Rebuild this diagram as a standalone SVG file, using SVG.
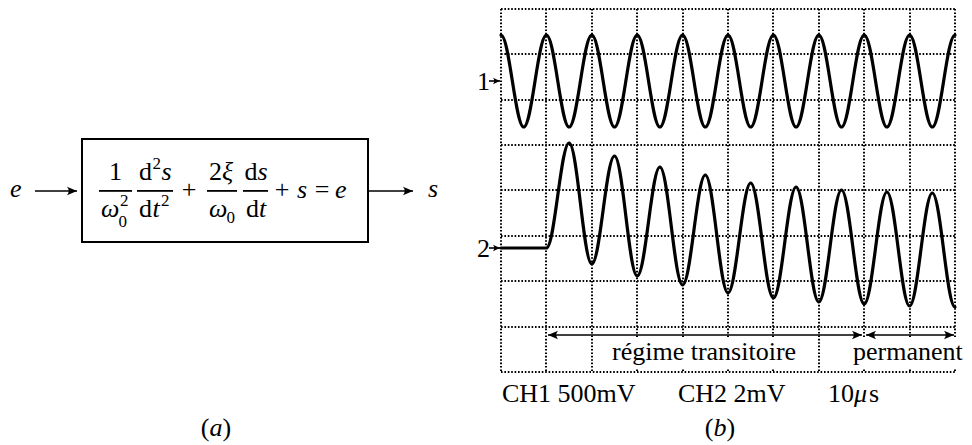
<svg xmlns="http://www.w3.org/2000/svg" width="972" height="445" viewBox="0 0 972 445">
<style>
text{font-family:"Liberation Serif","Times New Roman",serif;font-size:26px;fill:#000}
.i{font-style:italic}
.sc{font-size:17px}
.m{text-anchor:middle}
.bar{fill:#000}
.grid{fill:none;stroke:#000;stroke-width:2;stroke-dasharray:1.6 1.8}
.trace{fill:none;stroke:#000;stroke-width:3.2;stroke-linejoin:round;stroke-linecap:round}
.conn{fill:none;stroke:#000;stroke-width:1.6}
</style>
<defs>
<marker id="ah" viewBox="-11 -5 12 10" refX="0" refY="0" markerWidth="12" markerHeight="10" markerUnits="userSpaceOnUse" orient="auto-start-reverse">
<path d="M0,0 L-10,-4.2 Q-6.5,0 -10,4.2 Z" fill="#000"/>
</marker>
<marker id="ahs" viewBox="-8 -4 9 8" refX="0" refY="0" markerWidth="9" markerHeight="8" markerUnits="userSpaceOnUse" orient="auto">
<path d="M0,0 L-7,-3.2 Q-4.5,0 -7,3.2 Z" fill="#000"/>
</marker>
</defs>
<rect width="972" height="445" fill="#fff"/>

<!-- (a) block diagram -->
<g id="input-e"><text class="i" x="10" y="197">e</text></g>
<g id="block">
<rect x="82" y="139" width="286" height="103" fill="#fff" stroke="#000" stroke-width="2"/>
<text class="m" x="115.5" y="180">1</text>
<rect class="bar" x="99" y="190" width="33" height="1.8"/>
<text class="i" x="101" y="217">ω</text>
<text class="sc" x="118.5" y="227">0</text>
<text class="sc" x="120" y="206">2</text>
<text x="139" y="180">d</text>
<text class="sc" x="152.5" y="169">2</text>
<text class="i" x="161.5" y="180">s</text>
<rect class="bar" x="137" y="190" width="36" height="1.8"/>
<text x="139" y="217">d</text>
<text class="i" x="152.5" y="217">t</text>
<text class="sc" x="161" y="206">2</text>
<text class="m" x="189" y="198">+</text>
<text x="209" y="180">2</text>
<text class="i" x="222" y="180">ξ</text>
<rect class="bar" x="207" y="190" width="30" height="1.8"/>
<text class="i" x="209" y="217">ω</text>
<text class="sc" x="226.5" y="223">0</text>
<text x="244.5" y="180">d</text>
<text class="i" x="257.5" y="180">s</text>
<rect class="bar" x="243" y="190" width="25" height="1.8"/>
<text x="246" y="217">d</text>
<text class="i" x="259" y="217">t</text>
<text class="m" x="282" y="198">+</text>
<text class="i" x="297" y="198">s</text>
<text class="m" x="322" y="198">=</text>
<text class="i" x="335" y="198">e</text>
</g>
<g id="output-s"><text class="i" x="428" y="197">s</text></g>
<g id="caption-a"><text class="m" x="216" y="436">(<tspan class="i">a</tspan>)</text></g>

<!-- (b) oscilloscope -->
<g id="scope">
<path class="grid" d="M501,9V372M546,9V372M592,9V372M637,9V372M683,9V372M728,9V372M773,9V372M819,9V372M864,9V372M910,9V372M955,9V372M501,9H955M501,54H955M501,100H955M501,145H955M501,190H955M501,236H955M501,281H955M501,327H955M501,372H955"/>
<path class="trace" d="M501,35 C509.27,35 515.43,127 523.7,127 s14.43,-92 22.7,-92 s14.43,92 22.7,92 s14.43,-92 22.7,-92 s14.43,92 22.7,92 s14.43,-92 22.7,-92 s14.43,92 22.7,92 s14.43,-92 22.7,-92 s14.43,92 22.7,92 s14.43,-92 22.7,-92 s14.43,92 22.7,92 s14.43,-92 22.7,-92 s14.43,92 22.7,92 s14.43,-92 22.7,-92 s14.43,92 22.7,92 s14.43,-92 22.7,-92 s14.43,92 22.7,92 s14.43,-92 22.7,-92 s14.43,92 22.7,92 s14.43,-92 22.7,-92"/>
<path class="trace" d="M501,248 H546.4 C554.67,248 560.83,143 569.1,143 S583.53,264 591.8,264 S606.23,156 614.5,156 S628.93,276 637.2,276 S651.63,167 659.9,167 S674.33,285 682.6,285 S697.03,175 705.3,175 S719.73,293 728,293 S742.43,183 750.7,183 S765.13,298 773.4,298 S787.83,187 796.1,187 S810.53,302 818.8,302 S833.23,190 841.5,190 S855.93,304 864.2,304 S878.63,192 886.9,192 S901.33,306 909.6,306 S924.03,193 932.3,193 S946.73,307 955,307"/>
<rect x="609" y="338" width="194" height="31" fill="#fff"/>
<rect x="850" y="338" width="120" height="31" fill="#fff"/>
<text x="612" y="360">régime transitoire</text>
<text x="853" y="360">permanent</text>
</g>
<g id="ch1-label"><text x="477" y="90">1</text></g>
<g id="ch2-label"><text x="477" y="257">2</text></g>
<g id="settings">
<text x="502" y="402">CH1 500mV</text>
<text x="678" y="402">CH2 2mV</text>
<text x="828" y="402">10<tspan class="i">μ</tspan><tspan dx="2">s</tspan></text>
</g>
<g id="caption-b"><text class="m" x="720" y="436">(<tspan class="i">b</tspan>)</text></g>

<g id="connectors">
<path class="conn" d="M35,191 H77" marker-end="url(#ah)"/>
<path class="conn" d="M368,191 H413" marker-end="url(#ah)"/>
<path class="conn" d="M489,81 H500" marker-end="url(#ahs)"/>
<path class="conn" d="M489,248 H500" marker-end="url(#ahs)"/>
<path class="conn" d="M548,335 H862" marker-start="url(#ah)" marker-end="url(#ah)"/>
<path class="conn" d="M866,335 H954" marker-start="url(#ah)" marker-end="url(#ah)"/>
</g>
</svg>
